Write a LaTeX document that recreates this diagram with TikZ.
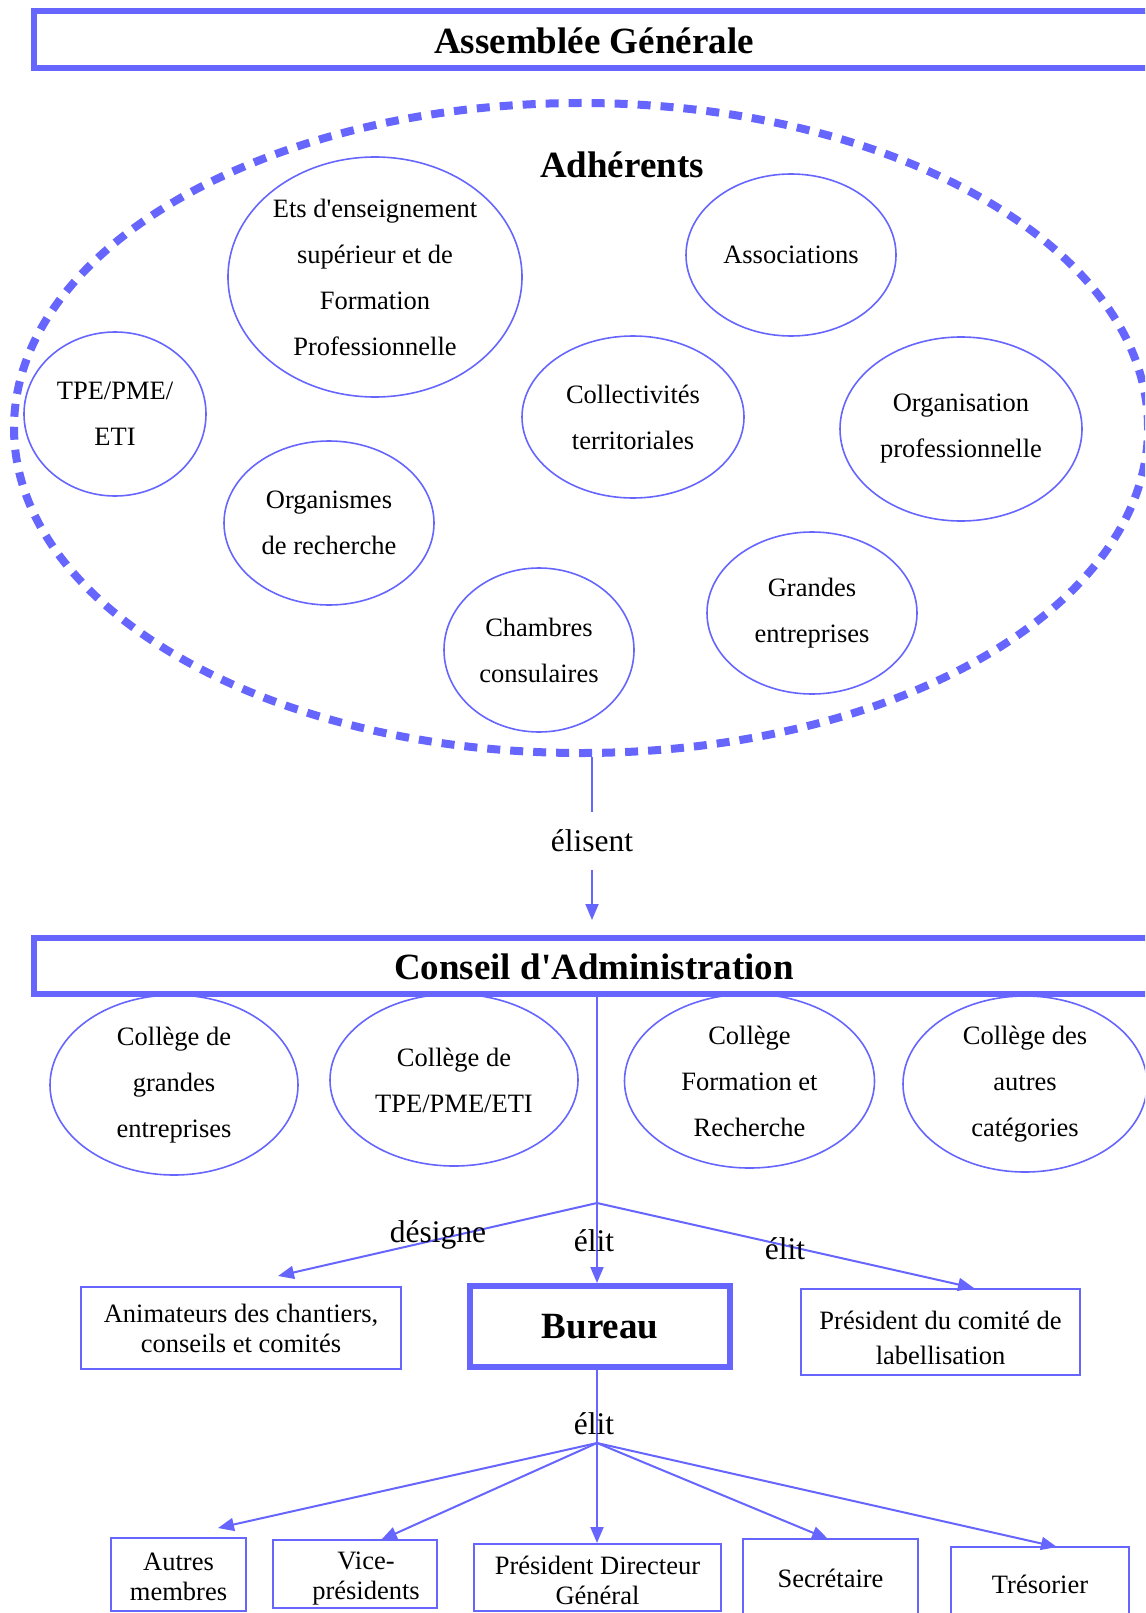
\documentclass[tikz,border=0pt]{standalone}
\usepackage{fontspec}
\setmainfont{Liberation Serif}
\usetikzlibrary{shapes.geometric,arrows.meta,calc}
\definecolor{bl}{RGB}{102,102,255}
\begin{document}
\begin{tikzpicture}[x=1pt,y=-1pt,
  ell/.style={ellipse,draw=bl,line width=1.6pt,inner sep=0pt,align=center,font=\fontsize{26.5}{46}\selectfont},
  bigbox/.style={draw=bl,line width=6pt,inner sep=0pt,font=\fontsize{37}{40}\selectfont\bfseries},
  box/.style={draw=bl,line width=2pt,align=center,inner sep=0pt,font=\fontsize{26.5}{30}\selectfont},
  txt/.style={align=center,inner sep=0pt,font=\fontsize{26.5}{30}\selectfont},
  lbl/.style={inner sep=0pt,font=\fontsize{31.5}{34}\selectfont},
  conn/.style={draw=bl,line width=2pt},
  arr/.style={conn,-{Triangle[length=16pt,width=13pt]}},
]
\path[use as bounding box,clip] (0,0) rectangle (1145,1613);

% Assemblee Generale
\node[bigbox,minimum width=1120pt,minimum height=57pt] (ag) at (594,39.5) {};
\node[font=\fontsize{37}{40}\selectfont\bfseries,inner sep=0pt] (agt) at (594,41) {Assemblée Générale};

% Adherents
\node[ellipse,draw=bl,line width=8pt,dash pattern=on 13pt off 10pt,minimum width=1134pt,minimum height=650pt,inner sep=0pt] (adh) at (581,428) {};
\node[inner sep=0pt,font=\fontsize{37}{40}\selectfont\bfseries] (adht) at (622,165) {Adhérents};

\node[ell,minimum width=294pt,minimum height=240pt] (ets) at (375,277) {Ets d\textquotesingle enseignement\\supérieur et de\\Formation\\Professionnelle};
\node[ell,minimum width=210pt,minimum height=162pt] (asso) at (791,255) {Associations};
\node[ell,minimum width=182pt,minimum height=164pt] (tpe) at (115,414) {TPE/PME/\\ETI};
\node[ell,minimum width=222pt,minimum height=162pt] (coll) at (633,417) {Collectivités\\territoriales};
\node[ell,minimum width=242pt,minimum height=184pt] (orgp) at (961,429) {Organisation\\professionnelle};
\node[ell,minimum width=210pt,minimum height=164pt] (orgr) at (329,523) {Organismes\\de recherche};
\node[ell,minimum width=190pt,minimum height=164pt] (cham) at (539,650) {Chambres\\consulaires};
\node[ell,minimum width=210pt,minimum height=162pt] (gde) at (812,613) {Grandes\\entreprises};

% elisent
\node[lbl,inner ysep=18pt] (elis) at (592,841) {élisent};
\draw[conn] (adh.south -| elis) -- (elis.north);

% Conseil d'Administration
\node[bigbox,minimum width=1120pt,minimum height=56pt] (ca) at (594,966) {};
\node[font=\fontsize{37}{40}\selectfont\bfseries,inner sep=0pt] (cat) at (594,967) {Conseil d\textquotesingle Administration};
\draw[arr,shorten >=15pt] (elis.south) -- (ca.north -| elis);

\node[ell,minimum width=248pt,minimum height=180pt] (cga) at (174,1085) {Collège de\\grandes\\entreprises};
\node[ell,minimum width=248pt,minimum height=172pt] (ctpe) at (454,1080) {Collège de\\TPE/PME/ETI};
\node[ell,minimum width=250pt,minimum height=174pt] (cfr) at (749.5,1081) {Collège\\Formation et\\Recherche};
\node[ell,minimum width=244pt,minimum height=176pt] (cac) at (1025,1084) {Collège des\\autres\\catégories};

% Bureau level
\node[box,minimum width=320pt,minimum height=82pt] (anim) at (241,1328) {Animateurs des chantiers,\\conseils et comités};
\node[bigbox,minimum width=260pt,minimum height=81pt] (bur) at (600,1326.5) {Bureau};
\node[box,minimum width=279pt,minimum height=86pt] (pres) at (940.5,1332) {};
\node[txt,font=\fontsize{26.5}{35}\selectfont] (prest) at (940.5,1338) {Président du comité de\\labellisation};

\coordinate (b1) at (597,1203);
\coordinate (tAnim) at (278,1276);
\coordinate (tPres) at (974,1288);
\draw[conn] (ca.south -| b1) -- (b1);
\draw[arr] (b1) -- (tAnim);
\draw[arr] (b1) -- (bur.north -| b1);
\draw[arr] (b1) -- (tPres);
\node[lbl] (ldes) at (438,1235) {désigne};
\node[lbl] (lel1) at (594,1241) {élit};
\node[lbl] (lel2) at (785,1249) {élit};

% bottom level
\node[box,minimum width=135pt,minimum height=73pt] (aut) at (178.5,1574.5) {};
\node[txt] (autt) at (178.5,1577) {Autres\\membres};
\node[box,minimum width=164pt,minimum height=68pt] (vice) at (355,1574) {};
\node[txt] (vicet) at (366,1579) {Vice-\\présidents};
\node[box,minimum width=247pt,minimum height=67pt] (pdg) at (597.5,1577.5) {};
\node[txt] (pdgt) at (597.5,1580.5) {Président Directeur\\Général};
\node[box,minimum width=175pt,minimum height=78pt] (sec) at (830.5,1578) {Secrétaire};
\node[box,minimum width=178pt,minimum height=74pt] (tres) at (1040,1584) {Trésorier};

\coordinate (b2) at (597,1443);
\coordinate (tAut) at (218,1528);
\coordinate (tVice) at (381,1540);
\coordinate (tSec) at (828,1539);
\coordinate (tTres) at (1057,1547);
\draw[conn] (bur.south -| b2) -- (b2);
\draw[arr] (b2) -- (tAut);
\draw[arr] (b2) -- (tVice);
\draw[arr] (b2) -- (pdg.north -| b2);
\draw[arr] (b2) -- (tSec);
\draw[arr] (b2) -- (tTres);
\node[lbl] (lel3) at (594,1424) {élit};
\end{tikzpicture}
\end{document}
